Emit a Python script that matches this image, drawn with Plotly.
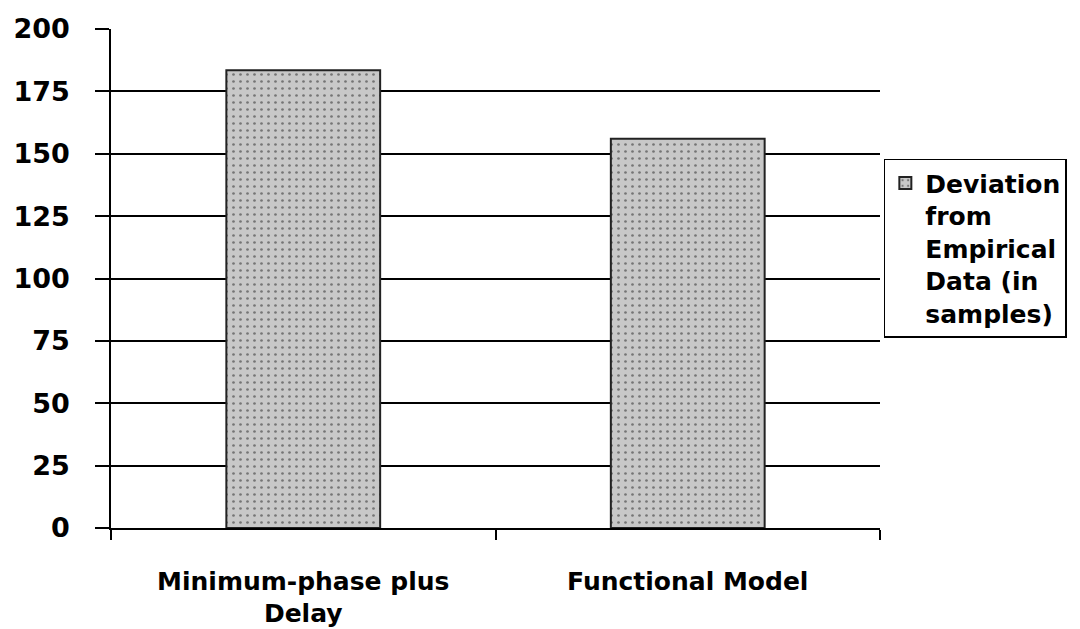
import plotly.graph_objects as go

categories = ["Minimum-phase plus<br>Delay", "Functional Model"]
values = [183.5, 156]
series_name = "Deviation<br>from<br>Empirical<br>Data (in<br>samples)"
y_ticks = [0, 25, 50, 75, 100, 125, 150, 175, 200]

FONT = "DejaVu Sans, Arial, sans-serif"

fig = go.Figure()
fig.add_trace(go.Bar(
    x=categories, y=values, name=series_name,
    marker=dict(
        color="#c8c8c8",
        line=dict(color="#222222", width=2),
        pattern=dict(shape=".", fgcolor="#222222", bgcolor="#c8c8c8", size=7, solidity=0.12),
    ),
    showlegend=True,
))

fig.update_layout(
    width=1080, height=629,
    margin=dict(l=111, r=200, t=29, b=101),
    paper_bgcolor="white", plot_bgcolor="white",
    bargap=0.6,
    font=dict(family=FONT, color="black"),
    showlegend=True,
    legend=dict(
        x=1.005, y=0.74, xanchor="left", yanchor="top",
        bordercolor="black", borderwidth=1.5,
        font=dict(family=FONT, size=25, color="black", weight="bold"),
        valign="top",
        itemwidth=30,
        tracegroupgap=0,
    ),
    xaxis=dict(
        automargin=False,
        showline=True, linecolor="black", linewidth=1.5,
        ticks="outside", tickson="boundaries", ticklen=10, tickcolor="black", tickwidth=1.5,
        tickfont=dict(family=FONT, size=25, color="black", weight="bold"),
        ticklabelstandoff=30,
        showgrid=False,
    ),
    yaxis=dict(
        automargin=False,
        range=[0, 200], tickvals=y_ticks,
        showline=True, linecolor="black", linewidth=1.5,
        ticks="outside", ticklen=14, tickcolor="black", tickwidth=1.5,
        showgrid=True, gridcolor="black", gridwidth=1.5,
        zeroline=False,
        tickfont=dict(family=FONT, size=27, color="black", weight="bold"),
        ticklabelstandoff=20,
    ),
)

fig.write_html("out.html")
